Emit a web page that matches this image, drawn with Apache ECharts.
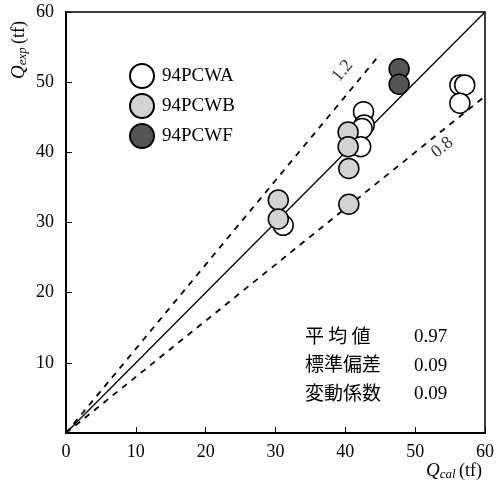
<!DOCTYPE html>
<html>
<head>
<meta charset="utf-8">
<script src="https://cdn.jsdelivr.net/npm/echarts@6/dist/echarts.min.js"></script>
<style>
  html, body { margin: 0; padding: 0; background: #fff; }
  #main { width: 497px; height: 486px; }
</style>
</head>
<body>
<div id="main"></div>
<script>
  // Q_cal, Q_exp (tf)
  var seriesNames = ['94PCWA', '94PCWB', '94PCWF'];
  var pcwA = [[56.4, 49.6], [57.1, 49.6], [56.4, 47.0], [42.6, 45.8], [42.7, 43.9], [42.4, 43.4], [42.2, 40.8], [31.1, 29.6]];
  var pcwB = [[30.4, 33.2], [30.4, 30.5], [40.4, 42.9], [40.4, 40.8], [40.5, 37.7], [40.5, 32.6]];
  var pcwF = [[47.7, 51.9], [47.7, 49.7]];
  var lineSolid = [[0, 0], [60, 60]];
  var line12 = [[0, 0], [45, 54]];
  var line08 = [[0, 0], [60, 48]];
  var ratioLabels = [['1.2', 39.6, 51.6, 50], ['0.8', 53.9, 40.7, 38.5]];
  var statNames = ['平 均 値', '標準偏差', '変動係数'];
  var statValues = ['0.97', '0.09', '0.09'];
  var ticks = [0, 10, 20, 30, 40, 50, 60];

  var serif = '"Liberation Serif", "DejaVu Serif", serif';
  var cjk = '"Noto Sans CJK JP", sans-serif';

  var chartDom = document.getElementById('main');
  var myChart = echarts.init(chartDom);
  var option;

  var axisCommon = {
    type: 'value',
    min: 0,
    max: 60,
    interval: 10,
    axisLine: { show: true, onZero: false, lineStyle: { color: '#000', width: 2 } },
    axisTick: { show: true, inside: true, length: 6, lineStyle: { color: '#000', width: 1 } },
    splitLine: { show: false }
  };

  var pointStyle = function (color) {
    return {
      type: 'scatter',
      symbol: 'circle',
      symbolSize: 20,
      itemStyle: { color: color, borderColor: '#000', borderWidth: 1.5, opacity: 1 },
      z: 5
    };
  };

  var statGraphics = [];
  statNames.forEach(function (n, i) {
    statGraphics.push({
      type: 'text', left: 305, top: 326 + i * 28.5,
      style: { text: n, fill: '#000', font: '19px ' + cjk }
    });
    statGraphics.push({
      type: 'text', left: 414, top: 328 + i * 28.5,
      style: { text: statValues[i], fill: '#000', font: '19px ' + serif }
    });
  });

  var axisTitleRich = {
    q: { fontFamily: serif, fontStyle: 'italic', fontSize: 19 },
    s: { fontFamily: serif, fontStyle: 'italic', fontSize: 13, verticalAlign: 'bottom', padding: [7, 0, 0, 0] },
    u: { fontFamily: serif, fontSize: 18 }
  };

  option = {
    animation: false,
    backgroundColor: '#fff',
    grid: { left: 66, right: 8, top: 12, bottom: 53, show: true, borderColor: '#000', borderWidth: 1.5 },
    xAxis: Object.assign({}, axisCommon, {
      axisLabel: { color: '#000', fontFamily: serif, fontSize: 18, margin: 10,
        formatter: function (v) { return ticks.indexOf(v) >= 0 ? String(v) : ''; } }
    }),
    yAxis: Object.assign({}, axisCommon, {
      axisLabel: { color: '#000', fontFamily: serif, fontSize: 18, margin: 12,
        formatter: function (v) { return v === 0 ? '' : String(v); } }
    }),
    legend: {
      orient: 'vertical',
      left: 124,
      top: 58,
      itemWidth: 26,
      itemHeight: 24,
      itemGap: 4,
      icon: 'circle',
      data: seriesNames,
      textStyle: { color: '#000', fontFamily: serif, fontSize: 19, padding: [0, 0, 0, 2] }
    },
    graphic: [
      {
        type: 'text', x: 19, y: 50, rotation: Math.PI / 2,
        style: { text: '{q|Q}{s|exp} {u|(tf)}', align: 'center', verticalAlign: 'middle', rich: axisTitleRich }
      },
      {
        type: 'text', x: 454, y: 471,
        style: { text: '{q|Q}{s|cal} {u|(tf)}', align: 'center', verticalAlign: 'middle', rich: axisTitleRich }
      }
    ].concat(statGraphics),
    series: [
      Object.assign(pointStyle('#ffffff'), { name: seriesNames[0], data: pcwA }),
      Object.assign(pointStyle('#d2d2d2'), { name: seriesNames[1], data: pcwB }),
      Object.assign(pointStyle('#555555'), { name: seriesNames[2], data: pcwF }),
      {
        type: 'line', data: lineSolid, symbol: 'none', silent: true, z: 2,
        lineStyle: { color: '#000', width: 1.3, type: 'solid' }
      },
      {
        type: 'line', data: line12, symbol: 'none', silent: true, z: 2,
        lineStyle: { color: '#000', width: 1.8, type: [6, 6] }
      },
      {
        type: 'line', data: line08, symbol: 'none', silent: true, z: 2,
        lineStyle: { color: '#000', width: 1.8, type: [6, 6] }
      },
      {
        type: 'scatter', symbolSize: 0, silent: true, z: 3,
        data: ratioLabels.map(function (r) {
          return {
            value: [r[1], r[2]],
            label: { show: true, formatter: r[0], rotate: r[3], position: 'inside',
              color: '#000', fontFamily: serif, fontSize: 18 }
          };
        })
      }
    ]
  };

  option && myChart.setOption(option);
</script>
</body>
</html>
